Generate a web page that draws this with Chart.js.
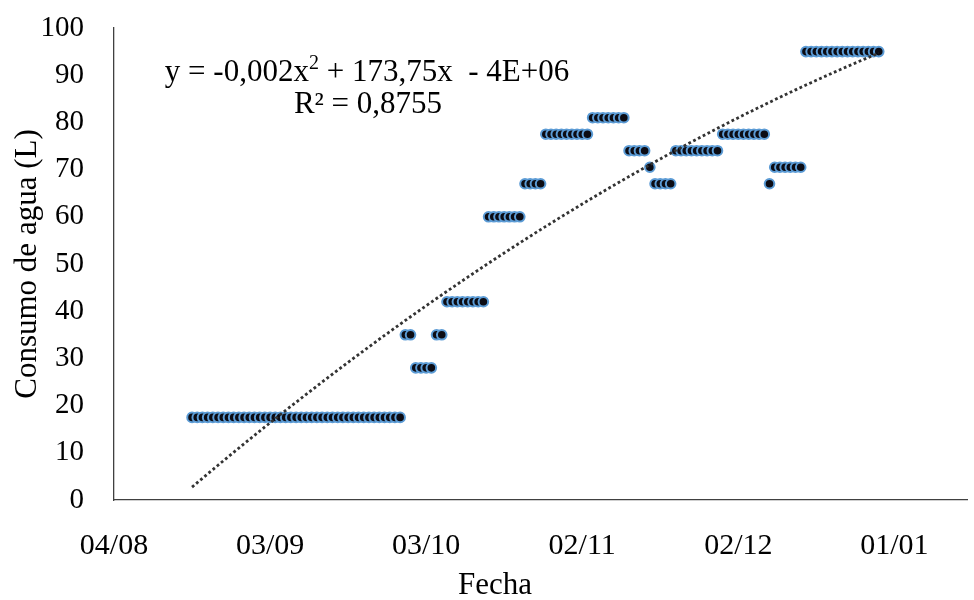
<!DOCTYPE html>
<html>
<head>
<meta charset="utf-8">
<script src="https://cdn.jsdelivr.net/npm/chart.js@4.4.1/dist/chart.umd.min.js"></script>
<style>
  html, body { margin: 0; padding: 0; background: #fff; }
  #wrap { width: 974px; height: 600px; }
</style>
</head>
<body>
<div id="wrap"><canvas id="chart" width="974" height="600"></canvas></div>
<script>
// Days are counted from 04/08; one reading per day starting at firstDay.
const tickDays = [0, 30, 60, 90, 120, 150];
const tickLabels = ['04/08', '03/09', '03/10', '02/11', '02/12', '01/01'];
const yTicks = [0, 10, 20, 30, 40, 50, 60, 70, 80, 90, 100];
const firstDay = 15;

// Water consumption (L), one value per day
const consumo = [
  17.5, 17.5, 17.5, 17.5, 17.5, 17.5, 17.5, 17.5, 17.5, 17.5,
  17.5, 17.5, 17.5, 17.5, 17.5, 17.5, 17.5, 17.5, 17.5, 17.5,
  17.5, 17.5, 17.5, 17.5, 17.5, 17.5, 17.5, 17.5, 17.5, 17.5,
  17.5, 17.5, 17.5, 17.5, 17.5, 17.5, 17.5, 17.5, 17.5, 17.5,
  17.5,
  35, 35,
  28, 28, 28, 28,
  35, 35,
  42, 42, 42, 42, 42, 42, 42, 42,
  60, 60, 60, 60, 60, 60, 60,
  67, 67, 67, 67,
  77.5, 77.5, 77.5, 77.5, 77.5, 77.5, 77.5, 77.5, 77.5,
  81, 81, 81, 81, 81, 81, 81,
  74, 74, 74, 74,
  70.5,
  67, 67, 67, 67,
  74, 74, 74, 74, 74, 74, 74, 74, 74,
  77.5, 77.5, 77.5, 77.5, 77.5, 77.5, 77.5, 77.5, 77.5,
  67,
  70.5, 70.5, 70.5, 70.5, 70.5, 70.5,
  95, 95, 95, 95, 95, 95, 95, 95, 95, 95, 95, 95, 95, 95, 95
];

const eqMain = 'y = -0,002x';
const eqSup = '2';
const eqRest = ' + 173,75x  - 4E+06';
const r2Label = 'R² = 0,8755';
const xTitle = 'Fecha';
const yTitle = 'Consumo de agua (L)';

const FONT = 'Liberation Serif, "Times New Roman", serif';

const points = consumo.map((v, i) => ({ x: firstDay + i, y: v }));

// Second-order polynomial least-squares fit of the readings
function quadFit(pts) {
  const s = [0, 0, 0, 0, 0], t = [0, 0, 0];
  pts.forEach(p => {
    let pw = 1;
    for (let k = 0; k < 5; k++) {
      s[k] += pw;
      if (k < 3) t[k] += p.y * pw;
      pw *= p.x;
    }
  });
  const m = [[s[0], s[1], s[2], t[0]], [s[1], s[2], s[3], t[1]], [s[2], s[3], s[4], t[2]]];
  for (let c = 0; c < 3; c++) {
    for (let r = c + 1; r < 3; r++) {
      const f = m[r][c] / m[c][c];
      for (let k = c; k < 4; k++) m[r][k] -= f * m[c][k];
    }
  }
  const sol = [0, 0, 0];
  for (let r = 2; r >= 0; r--) {
    let acc = m[r][3];
    for (let k = r + 1; k < 3; k++) acc -= m[r][k] * sol[k];
    sol[r] = acc / m[r][r];
  }
  return sol;
}

const coef = quadFit(points);
const trend = points.map(p => ({ x: p.x, y: coef[0] + coef[1] * p.x + coef[2] * p.x * p.x }));

// Equation text and the x-axis title
const annotations = {
  id: 'annotations',
  afterDraw(chart) {
    const ctx = chart.ctx;
    const area = chart.chartArea;
    ctx.save();
    ctx.fillStyle = '#000';
    ctx.textBaseline = 'alphabetic';
    const cx = area.left + 253;
    const big = '31px ' + FONT;
    const small = '20px ' + FONT;
    ctx.font = big;
    const w1 = ctx.measureText(eqMain).width;
    const w3 = ctx.measureText(eqRest).width;
    ctx.font = small;
    const w2 = ctx.measureText(eqSup).width;
    let x = cx - (w1 + w2 + w3) / 2;
    const y1 = area.top + 53;
    ctx.textAlign = 'left';
    ctx.font = big;
    ctx.fillText(eqMain, x, y1);
    x += w1;
    ctx.font = small;
    ctx.fillText(eqSup, x, y1 - 12);
    x += w2;
    ctx.font = big;
    ctx.fillText(eqRest, x, y1);
    ctx.textAlign = 'center';
    ctx.fillText(r2Label, cx + 1, y1 + 32);

    ctx.font = '31px ' + FONT;
    ctx.textBaseline = 'middle';
    ctx.fillText(xTitle, 495, 586);
    ctx.restore();
  }
};

new Chart(document.getElementById('chart'), {
  type: 'scatter',
  data: {
    datasets: [
      {
        type: 'line',
        data: trend,
        borderColor: '#333333',
        borderWidth: 2.8,
        borderDash: [2.8, 2.6],
        borderCapStyle: 'butt',
        pointRadius: 0,
        fill: false,
        tension: 0,
        order: 0
      },
      {
        data: points,
        pointRadius: 4.8,
        pointBackgroundColor: '#0c0c14',
        pointBorderColor: '#5b9bd5',
        pointBorderWidth: 2,
        order: 1
      }
    ]
  },
  options: {
    responsive: false,
    animation: false,
    devicePixelRatio: 1,
    layout: { padding: { top: 28, right: 2, left: 0, bottom: 0 } },
    plugins: { legend: { display: false }, tooltip: { enabled: false } },
    scales: {
      x: {
        type: 'linear',
        min: 0,
        max: 164,
        grid: { display: false, drawTicks: false },
        border: { display: true, color: '#404040', width: 1.3 },
        afterFit(scale) {
          scale.height = 100;
          scale.paddingLeft = 0;
          scale.paddingRight = 0;
        },
        afterBuildTicks(scale) { scale.ticks = tickDays.map(v => ({ value: v })); },
        ticks: {
          padding: 28,
          color: '#000',
          font: { family: FONT, size: 30 },
          maxRotation: 0,
          callback(value) {
            const i = tickDays.indexOf(value);
            return i >= 0 ? tickLabels[i] : '';
          }
        }
      },
      y: {
        min: 0,
        max: 100,
        grid: { display: false, drawTicks: false },
        border: { display: true, color: '#404040', width: 1.3 },
        afterFit(scale) {
          scale.width = 114;
          scale.paddingTop = 0;
          scale.paddingBottom = 0;
        },
        afterBuildTicks(scale) { scale.ticks = yTicks.map(v => ({ value: v })); },
        ticks: {
          padding: 30,
          color: '#000',
          font: { family: FONT, size: 29 }
        },
        title: {
          display: true,
          text: yTitle,
          color: '#000',
          font: { family: FONT, size: 31 },
          padding: { top: 9, bottom: 0 }
        }
      }
    }
  },
  plugins: [annotations]
});
</script>
</body>
</html>
